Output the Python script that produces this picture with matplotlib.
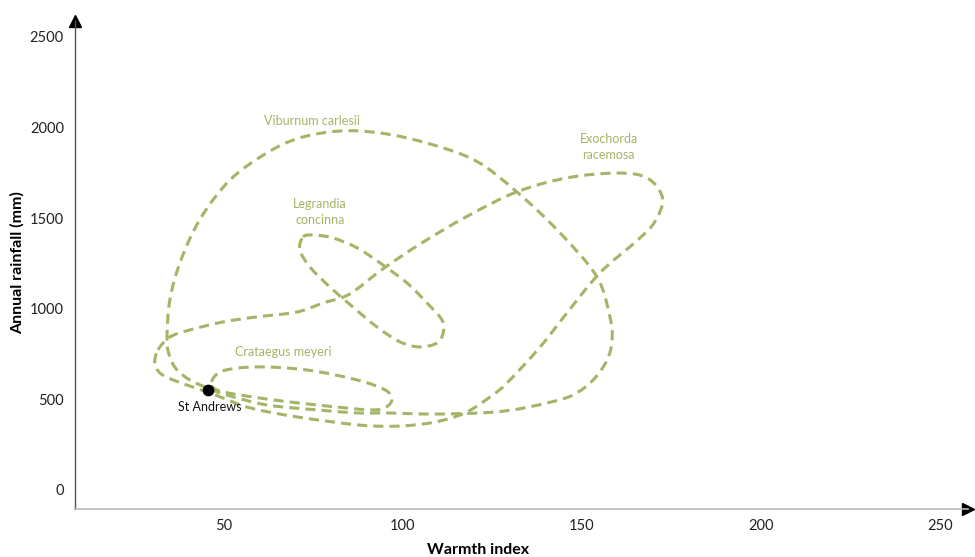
import numpy as np
import matplotlib
matplotlib.use('Agg')
import matplotlib.pyplot as plt
from matplotlib.path import Path
from matplotlib.patches import PathPatch

plt.rcParams['font.family'] = ['Lato', 'DejaVu Sans']

# Outline points of each climate envelope (warmth index, annual rainfall mm)
viburnum_x = [34.1, 34.9, 38.0, 43.5, 51.7, 62.0, 71.2, 82.4, 93.6, 106.0, 120.0, 131.8,
              143.9, 154.2, 157.8, 158.4, 157.0, 153.1, 147.5, 140.2, 130.7, 121.5, 107.5,
              95.5, 87.2, 76.0, 62.0, 50.8, 45.3, 40.5, 36.9, 34.9]
viburnum_y = [828, 1049, 1269, 1500, 1711, 1860, 1943, 1981, 1970, 1918, 1820, 1645,
              1418, 1175, 955, 828, 717, 607, 524, 480, 442, 425, 419,
              425, 425, 442, 469, 524, 563, 607, 662, 734]

exochorda_x = [31.6, 34.9, 40.5, 49.7, 59.2, 70.4, 77.7, 85.0, 94.4, 105.0, 117.9, 131.8,
               145.8, 159.8, 168.2, 172.5, 170.3, 165.6, 155.0, 145.8, 138.3, 129.1,
               124.3, 117.3, 109.0, 99.2, 88.0, 70.4, 57.3, 49.7, 45.3, 41.3, 35.8, 32.1, 30.7]
exochorda_y = [773, 844, 883, 927, 955, 982, 1032, 1080, 1220, 1360, 1510, 1645,
               1722, 1749, 1722, 1610, 1479, 1380, 1198, 977, 789, 591,
               513, 425, 375, 353, 358, 403, 453, 508, 541, 568, 607, 646, 701]

legrandia_x = [72.1, 74.9, 80.4, 87.2, 93.6, 101.1, 106.7, 110.9, 111.2, 109.5, 104.7,
               99.2, 92.7, 86.0, 79.6, 74.0, 71.2]
legrandia_y = [1396, 1407, 1391, 1336, 1253, 1143, 1032, 938, 866, 811, 789,
               817, 900, 1010, 1120, 1231, 1325]

crataegus_x = [46.6, 49.7, 59.2, 73.2, 87.2, 95.0, 96.9, 95.3, 90.8, 76.0, 62.0, 48.9]
crataegus_y = [596, 657, 679, 662, 607, 552, 502, 458, 442, 469, 502, 546]

site_name = 'St Andrews'
site_x = 45.5
site_y = 552

x_ticks = [50, 100, 150, 200, 250]
y_ticks = [0, 500, 1000, 1500, 2000, 2500]

green = '#a3b566'


def closed_smooth_path(xs, ys):
    ''' Closed Catmull-Rom outline as cubic Bezier path '''
    pts = np.column_stack([xs, ys]).astype(float)
    n = len(pts)
    verts = [pts[0]]
    codes = [Path.MOVETO]
    for i in range(n):
        p0, p1, p2, p3 = pts[i - 1], pts[i], pts[(i + 1) % n], pts[(i + 2) % n]
        verts += [p1 + (p2 - p0) / 6, p2 - (p3 - p1) / 6, p2]
        codes += [Path.CURVE4] * 3
    return Path(verts, codes)


fig = plt.figure(figsize=(9.75, 5.57), dpi=100)
ax = fig.add_axes([0.0769, 0.0862, 0.9159, 0.8761])

for xs, ys in [(viburnum_x, viburnum_y), (exochorda_x, exochorda_y),
               (legrandia_x, legrandia_y), (crataegus_x, crataegus_y)]:
    patch = PathPatch(closed_smooth_path(xs, ys), fill=False, edgecolor=green,
                      lw=2.2, linestyle=(0, (3.3, 2.0)), capstyle='butt')
    ax.add_patch(patch)

# Labels
lab = dict(color=green, fontsize=9, ha='center', va='center', linespacing=1.35)
ax.text(74.6, 2036, 'Viburnum carlesii', **lab)
ax.text(157.5, 1893, 'Exochorda\nracemosa', **lab)
ax.text(76.8, 1534, 'Legrandia\nconcinna', **lab)
ax.text(66.5, 762, 'Crataegus meyeri', **lab)

ax.scatter([site_x], [site_y], s=55, color='black', zorder=5)
ax.text(site_x + 0.6, site_y - 95, site_name, fontsize=9, ha='center', va='center', color='#111111')

ax.set_xlim(8.4, 257.8)
ax.set_ylim(-105, 2588)
ax.set_xticks(x_ticks)
ax.set_yticks(y_ticks)
ax.tick_params(length=0, labelsize=10.5, colors='#222222')
ax.tick_params(axis='y', pad=8)
ax.tick_params(axis='x', pad=7)

for s in ['top', 'right']:
    ax.spines[s].set_visible(False)
ax.spines['left'].set_color('#555555')
ax.spines['bottom'].set_color('#bbbbbb')
ax.spines['left'].set_linewidth(1.0)
ax.spines['bottom'].set_linewidth(1.2)

# Axis arrows
ax.plot(1, 0, '>', color='black', ms=8, transform=ax.transAxes, clip_on=False)
ax.plot(0, 1, '^', color='black', ms=8, transform=ax.transAxes, clip_on=False)

ax.set_ylabel('Annual rainfall (mm)', fontsize=11.5, fontweight='bold')
ax.set_xlabel('Warmth index', fontsize=11.5, fontweight='bold')
ax.yaxis.set_label_coords(-0.056, 0.506)
ax.xaxis.set_label_coords(0.451, -0.070)

fig.savefig('out.png', dpi=100)
